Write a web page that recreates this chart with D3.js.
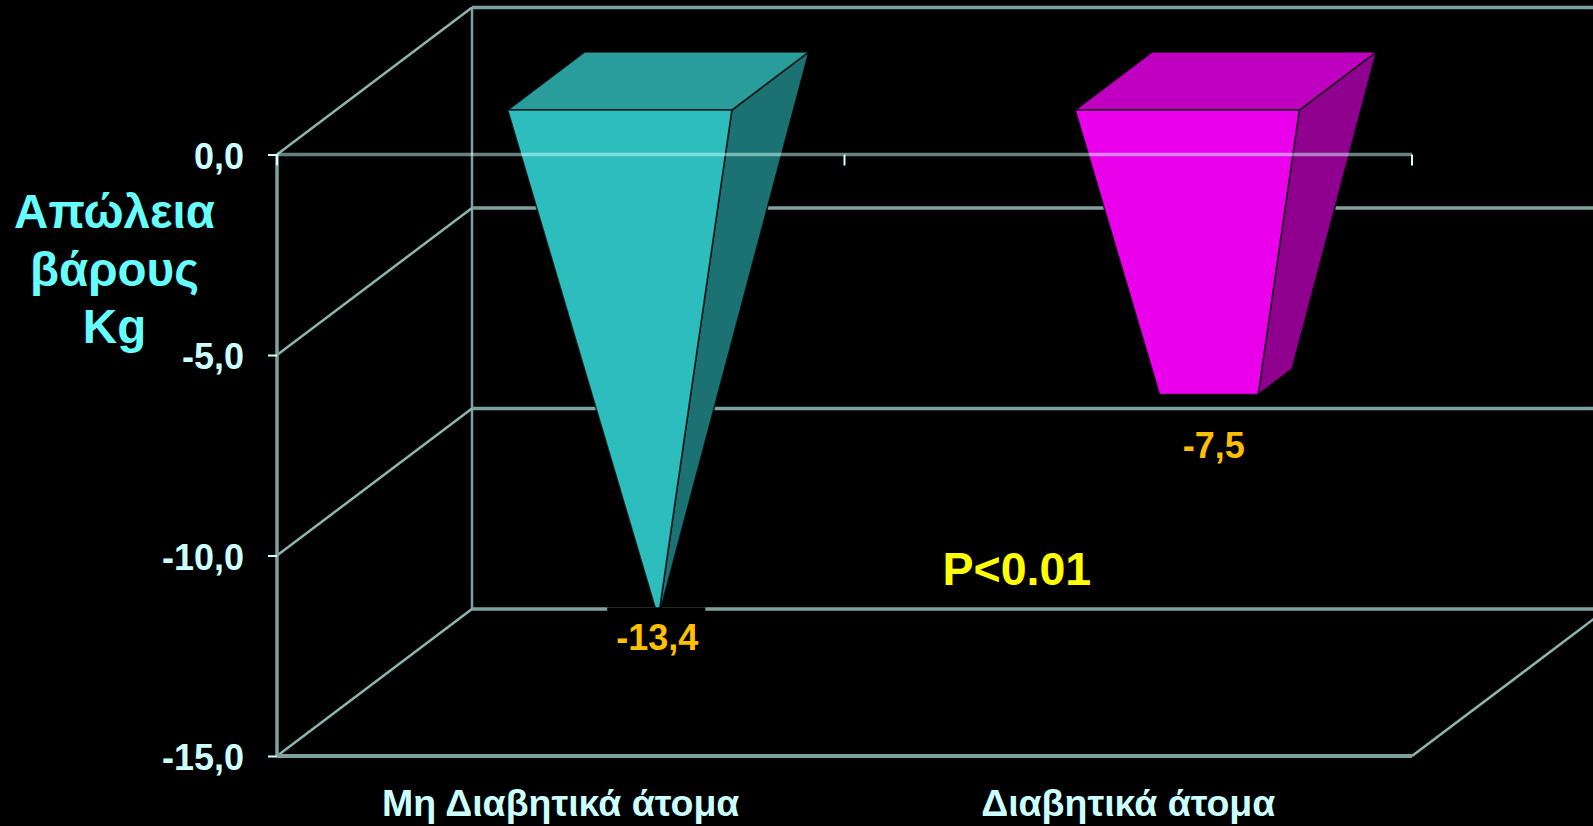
<!DOCTYPE html>
<html lang="el">
<head>
<meta charset="utf-8">
<title>Απώλεια βάρους</title>
<script src="https://cdn.jsdelivr.net/npm/d3@7/dist/d3.min.js"></script>
<style>
  html, body { margin: 0; padding: 0; background: #000; overflow: hidden; }
  svg { display: block; }
  text { font-family: "Liberation Sans", Arial, sans-serif; font-weight: 700; }
</style>
</head>
<body>
<script>
// Weight loss values (kg) for the two patient groups
const categories = ["Μη Διαβητικά άτομα", "Διαβητικά άτομα"];
const weightLoss = [-13.4, -7.5];
const valueLabels = ["-13,4", "-7,5"];
const yTickValues = [0, -5, -10, -15];
const yTickLabels = ["0,0", "-5,0", "-10,0", "-15,0"];
const yTitleLines = ["Απώλεια", "βάρους", "Kg"];
const significance = "P<0.01";

const faceFill = [
  { front: "#2EBDBD", top: "#299C9C", side: "#1C7272" },
  { front: "#EA00EA", top: "#C000C0", side: "#8F008F" }
];

const width = 1593, height = 826;
const svg = d3.select("body").append("svg").attr("width", width).attr("height", height);
svg.append("rect").attr("width", width).attr("height", height).attr("fill", "#000");

// Oblique 3D projection: value and category on the front plane, depth pushes up and to the right
const x = d3.scaleBand().domain(categories).range([277, 1412]);
const y = d3.scaleLinear().domain([0, -15]).range([154.5, 756]);
const depthX = d3.scaleLinear().domain([0, 1]).range([0, 195]);
const depthY = d3.scaleLinear().domain([0, 1]).range([0, -147]);
const project = (px, depth, value) => [px + depthX(depth), y(value) + depthY(depth)];

const gridColor = "#7FA19D";
const diagonalColor = "#8DB5B0";
const tickColor = "#D4FFFF";
const lineGen = d3.line();

const walls = svg.append("g").attr("fill", "none");

// Back wall gridlines and vertical edge
yTickValues.forEach(v => {
  walls.append("path")
    .attr("d", lineGen([project(277, 1, v), project(1412, 1, v)]))
    .attr("stroke", gridColor).attr("stroke-width", 3.5);
});
walls.append("path")
  .attr("d", lineGen([project(277, 1, 0), project(277, 1, -15)]))
  .attr("stroke", gridColor).attr("stroke-width", 2.5);

// Side wall and floor diagonals
yTickValues.forEach(v => {
  walls.append("path")
    .attr("d", lineGen([project(277, 0, v), project(277, 1, v)]))
    .attr("stroke", diagonalColor).attr("stroke-width", 2.5);
});
walls.append("path")
  .attr("d", lineGen([project(1412, 0, -15), project(1412, 1, -15)]))
  .attr("stroke", diagonalColor).attr("stroke-width", 2.5);

// Front edges of the box
walls.append("path")
  .attr("d", lineGen([project(277, 0, 0), project(277, 0, -15)]))
  .attr("stroke", gridColor).attr("stroke-width", 3.5);
walls.append("path")
  .attr("d", lineGen([project(277, 0, -15), project(1412, 0, -15)]))
  .attr("stroke", gridColor).attr("stroke-width", 4);

// Inverted pyramids: every column tapers toward the deepest value
const deepest = d3.min(weightLoss);
const halfWidth = x.bandwidth() * 0.1975;
const halfDepth = 0.1975;

const bars = svg.append("g").selectAll("g").data(categories).join("g");
bars.each(function (cat, i) {
  const g = d3.select(this);
  const v = weightLoss[i];
  const cx = x(cat) + x.bandwidth() / 2;
  const taper = 1 - v / deepest;
  const corner = (sx, sz, value, scale) =>
    project(cx + sx * halfWidth * scale, 0.5 + sz * halfDepth * scale, value);

  const faces = [
    { fill: faceFill[i].side, pts: [corner(1, -1, 0, 1), corner(1, 1, 0, 1), corner(1, 1, v, taper), corner(1, -1, v, taper)] },
    { fill: faceFill[i].top, pts: [corner(-1, -1, 0, 1), corner(1, -1, 0, 1), corner(1, 1, 0, 1), corner(-1, 1, 0, 1)] },
    { fill: faceFill[i].front, pts: [corner(-1, -1, 0, 1), corner(1, -1, 0, 1), corner(1, -1, v, taper), corner(-1, -1, v, taper)] }
  ];
  g.selectAll("path").data(faces).join("path")
    .attr("d", d => lineGen(d.pts) + "Z")
    .attr("fill", d => d.fill)
    .attr("stroke", "#000")
    .attr("stroke-opacity", 0.75)
    .attr("stroke-width", 1.6)
    .attr("stroke-linejoin", "round");
});

// Zero line runs across the columns and lightens them
svg.append("path")
  .attr("d", lineGen([project(277, 0, 0), project(1412, 0, 0)]))
  .attr("fill", "none")
  .attr("stroke", "rgba(205,255,250,0.5)")
  .attr("stroke-width", 3.5);

// Category boundary ticks hanging from the zero line
svg.append("g").selectAll("line")
  .data([...categories.map(c => x(c)), x.range()[1]])
  .join("line")
  .attr("x1", d => d).attr("x2", d => d)
  .attr("y1", y(0)).attr("y2", y(0) + 11)
  .attr("stroke", tickColor).attr("stroke-width", 2);

// Value axis
const yAxis = d3.axisLeft(y)
  .tickValues(yTickValues)
  .tickSize(9)
  .tickPadding(24)
  .tickFormat((d, i) => yTickLabels[i]);
const yAxisG = svg.append("g").attr("transform", "translate(277,0)").call(yAxis);
yAxisG.select(".domain").remove();
yAxisG.selectAll(".tick line").attr("stroke", tickColor).attr("stroke-width", 2);
yAxisG.selectAll(".tick text")
  .attr("fill", "#CCFFFF").attr("font-size", 36)
  .attr("font-family", "Liberation Sans, Arial, sans-serif")
  .attr("font-weight", 700)
  .attr("dy", "0.38em");

// Category axis below the floor
const xAxis = d3.axisBottom(x).tickSize(0).tickPadding(0);
const xAxisG = svg.append("g").attr("transform", "translate(0,789)").call(xAxis);
xAxisG.select(".domain").remove();
xAxisG.selectAll(".tick text")
  .attr("fill", "#CCFFFF").attr("font-size", 37.5)
  .attr("font-family", "Liberation Sans, Arial, sans-serif")
  .attr("font-weight", 700);

// Axis title
const titleBaselines = [228, 285.5, 343];
svg.append("g").selectAll("text").data(yTitleLines).join("text")
  .attr("x", 114.5)
  .attr("y", (d, i) => titleBaselines[i])
  .attr("text-anchor", "middle")
  .attr("fill", "#66FFFF")
  .attr("font-size", 47.5)
  .text(d => d);

// Value labels sit on opaque boxes, as the tip of the deepest column runs under its box
const labelOffsets = [{ dx: -1, dy: 32 }, { dx: -12, dy: 76.5 }];
const labels = svg.append("g").selectAll("g").data(categories).join("g");
labels.each(function (cat, i) {
  const g = d3.select(this);
  const p = project(x(cat) + x.bandwidth() / 2, 0.5, weightLoss[i]);
  const box = g.append("rect").attr("fill", "#000");
  const t = g.append("text")
    .attr("x", p[0] + labelOffsets[i].dx)
    .attr("y", p[1] + labelOffsets[i].dy)
    .attr("text-anchor", "middle")
    .attr("fill", "#FFC000")
    .attr("font-size", 36)
    .text(valueLabels[i]);
  const bb = t.node().getBBox();
  box.attr("x", bb.x - 9).attr("y", bb.y - 10).attr("width", bb.width + 16).attr("height", bb.height + 12);
});

// Significance note
svg.append("text")
  .attr("x", 942.5).attr("y", 584.5)
  .attr("fill", "#FFFF00")
  .attr("font-size", 46.5)
  .text(significance);
</script>
</body>
</html>
